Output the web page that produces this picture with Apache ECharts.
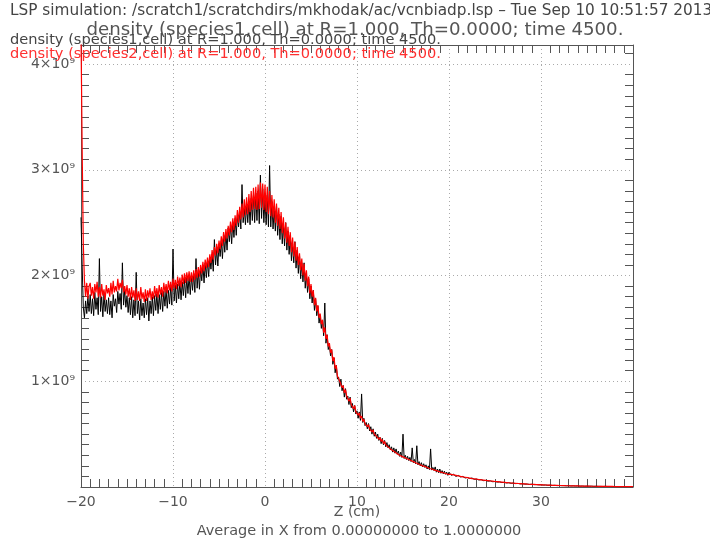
<!DOCTYPE html>
<html>
<head>
<meta charset="utf-8">
<script src="https://cdn.jsdelivr.net/npm/echarts@6/dist/echarts.min.js"></script>
<style>html,body{margin:0;padding:0;background:#fff;}#c{width:710px;height:544px;}</style>
</head>
<body>
<div id="c"></div>
<script>
// Z grids (cm): dense sampling from -20 to 20, coarser tail from 20 to 40
const nearStart = -20;
const nearStep = 0.125;
const tailStart = 20;
const tailStep = 0.25;
// densities in units of 1e9, one row per cm
const species1Near = [
  2.55, 2.10, 1.70, 1.60, 1.76, 1.64, 1.80, 1.66,
  1.82, 1.64, 1.78, 1.62, 1.84, 1.68, 1.79, 1.63,
  2.16, 1.66, 1.80, 1.61, 1.83, 1.66, 1.77, 1.64,
  1.79, 1.63, 1.76, 1.60, 1.82, 1.71, 1.78, 1.65,
  1.85, 1.73, 1.83, 1.68, 2.12, 1.72, 1.86, 1.70,
  1.81, 1.65, 1.79, 1.63, 1.80, 1.60, 1.77, 1.62,
  2.03, 1.64, 1.76, 1.58, 1.78, 1.62, 1.74, 1.60,
  1.78, 1.63, 1.79, 1.57, 1.76, 1.64, 1.80, 1.62,
  1.81, 1.67, 1.83, 1.64, 1.82, 1.68, 1.84, 1.66,
  1.85, 1.71, 1.87, 1.69, 1.86, 1.73, 1.89, 1.72,
  2.25, 1.76, 1.91, 1.74, 1.92, 1.78, 1.94, 1.77,
  1.94, 1.81, 1.97, 1.79, 1.98, 1.83, 2.00, 1.82,
  1.99, 1.86, 2.02, 1.84, 2.16, 1.88, 2.05, 1.87,
  2.06, 1.95, 2.10, 1.93, 2.12, 1.98, 2.14, 1.99,
  2.17, 2.06, 2.20, 2.04, 2.34, 2.10, 2.25, 2.09,
  2.30, 2.18, 2.33, 2.16, 2.38, 2.22, 2.40, 2.24,
  2.45, 2.32, 2.48, 2.30, 2.51, 2.36, 2.54, 2.38,
  2.57, 2.46, 2.60, 2.44, 2.86, 2.50, 2.64, 2.48,
  2.67, 2.50, 2.70, 2.48, 2.73, 2.52, 2.76, 2.50,
  2.78, 2.52, 2.80, 2.49, 2.95, 2.54, 2.82, 2.50,
  2.72, 2.48, 2.76, 2.46, 3.04, 2.46, 2.70, 2.44,
  2.62, 2.42, 2.66, 2.38, 2.58, 2.34, 2.56, 2.30,
  2.48, 2.28, 2.50, 2.24, 2.42, 2.20, 2.38, 2.14,
  2.30, 2.12, 2.32, 2.07, 2.24, 2.02, 2.19, 1.97,
  2.12, 1.94, 2.12, 1.88, 2.02, 1.84, 1.97, 1.78,
  1.90, 1.74, 1.86, 1.67, 1.78, 1.62, 1.71, 1.55,
  1.62, 1.50, 1.58, 1.43, 1.74, 1.36, 1.44, 1.30,
  1.34, 1.24, 1.30, 1.16, 1.22, 1.08, 1.15, 1.02,
  1.04, 0.95, 1.02, 0.91, 0.96, 0.85, 0.93, 0.83,
  0.86, 0.78, 0.85, 0.75, 0.79, 0.71, 0.77, 0.69,
  0.72, 0.65, 0.71, 0.63, 0.88, 0.61, 0.65, 0.58,
  0.61, 0.55, 0.60, 0.53, 0.57, 0.50, 0.55, 0.48,
  0.52, 0.46, 0.50, 0.44, 0.47, 0.41, 0.46, 0.40,
  0.44, 0.38, 0.42, 0.37, 0.40, 0.35, 0.38, 0.33,
  0.37, 0.32, 0.36, 0.31, 0.34, 0.29, 0.33, 0.28,
  0.50, 0.27, 0.30, 0.26, 0.29, 0.25, 0.28, 0.24,
  0.37, 0.23, 0.26, 0.22, 0.39, 0.21, 0.24, 0.20,
  0.23, 0.19, 0.22, 0.185, 0.21, 0.17, 0.20, 0.165,
  0.36, 0.16, 0.185, 0.155, 0.19, 0.14, 0.17, 0.135,
  0.17, 0.13, 0.155, 0.125, 0.15, 0.12, 0.14, 0.11
];
const species1Tail = [
  0.14, 0.11, 0.12, 0.10,
  0.11, 0.095, 0.10, 0.085,
  0.09, 0.08, 0.085, 0.072,
  0.075, 0.066, 0.07, 0.06,
  0.062, 0.055, 0.058, 0.05,
  0.052, 0.046, 0.048, 0.042,
  0.044, 0.038, 0.04, 0.035,
  0.037, 0.032, 0.034, 0.029,
  0.031, 0.027, 0.028, 0.024,
  0.026, 0.022, 0.023, 0.02,
  0.021, 0.018, 0.019, 0.016,
  0.017, 0.015, 0.016, 0.013,
  0.014, 0.012, 0.013, 0.011,
  0.012, 0.01, 0.011, 0.009,
  0.01, 0.008, 0.009, 0.007,
  0.008, 0.007, 0.008, 0.006,
  0.007, 0.006, 0.006, 0.005,
  0.006, 0.005, 0.005, 0.004,
  0.005, 0.004, 0.004, 0.004,
  0.004, 0.003, 0.004, 0.003,
  0.003
];
const species2Near = [
  4.30, 3.20, 2.30, 1.95, 1.80, 1.93, 1.78, 1.90,
  1.93, 1.81, 1.89, 1.78, 1.92, 1.84, 1.94, 1.80,
  1.89, 1.79, 1.92, 1.81, 1.87, 1.77, 1.91, 1.83,
  1.88, 1.80, 1.93, 1.82, 1.95, 1.84, 1.90, 1.85,
  1.97, 1.86, 1.93, 1.88, 1.96, 1.84, 1.90, 1.82,
  1.91, 1.80, 1.88, 1.77, 1.89, 1.79, 1.86, 1.76,
  1.88, 1.77, 1.85, 1.76, 1.89, 1.78, 1.84, 1.75,
  1.87, 1.76, 1.86, 1.79, 1.88, 1.77, 1.85, 1.78,
  1.90, 1.80, 1.88, 1.79, 1.91, 1.82, 1.89, 1.80,
  1.93, 1.84, 1.92, 1.83, 1.95, 1.86, 1.94, 1.85,
  1.97, 1.88, 1.96, 1.87, 1.99, 1.90, 1.98, 1.89,
  2.01, 1.92, 2.02, 1.93, 2.03, 1.95, 2.04, 1.94,
  2.03, 1.94, 2.05, 1.96, 2.06, 1.98, 2.08, 1.99,
  2.10, 2.02, 2.13, 2.04, 2.15, 2.07, 2.17, 2.08,
  2.20, 2.12, 2.24, 2.15, 2.27, 2.19, 2.30, 2.21,
  2.33, 2.25, 2.37, 2.28, 2.41, 2.32, 2.44, 2.35,
  2.47, 2.38, 2.51, 2.41, 2.54, 2.43, 2.57, 2.47,
  2.62, 2.50, 2.65, 2.53, 2.68, 2.55, 2.72, 2.57,
  2.74, 2.58, 2.77, 2.60, 2.80, 2.62, 2.83, 2.63,
  2.84, 2.62, 2.86, 2.63, 2.88, 2.64, 2.87, 2.62,
  2.86, 2.60, 2.84, 2.58, 2.80, 2.56, 2.76, 2.55,
  2.72, 2.50, 2.68, 2.47, 2.64, 2.44, 2.60, 2.40,
  2.55, 2.35, 2.50, 2.31, 2.46, 2.28, 2.41, 2.22,
  2.36, 2.18, 2.32, 2.14, 2.27, 2.10, 2.21, 2.05,
  2.16, 2.00, 2.11, 1.95, 2.05, 1.90, 1.99, 1.83,
  1.92, 1.80, 1.86, 1.72, 1.79, 1.66, 1.72, 1.60,
  1.64, 1.54, 1.58, 1.46, 1.51, 1.40, 1.44, 1.33,
  1.36, 1.27, 1.30, 1.19, 1.23, 1.12, 1.15, 1.05,
  1.06, 1.00, 1.01, 0.94, 0.96, 0.89, 0.92, 0.86,
  0.87, 0.81, 0.84, 0.78, 0.79, 0.74, 0.77, 0.71,
  0.72, 0.68, 0.70, 0.65, 0.67, 0.62, 0.64, 0.60,
  0.61, 0.57, 0.59, 0.55, 0.56, 0.52, 0.54, 0.50,
  0.51, 0.48, 0.49, 0.45, 0.47, 0.43, 0.45, 0.41,
  0.43, 0.40, 0.41, 0.38, 0.39, 0.36, 0.37, 0.345,
  0.36, 0.33, 0.345, 0.315, 0.33, 0.30, 0.315, 0.29,
  0.30, 0.28, 0.29, 0.27, 0.28, 0.26, 0.27, 0.25,
  0.26, 0.24, 0.25, 0.23, 0.24, 0.22, 0.23, 0.21,
  0.22, 0.20, 0.21, 0.195, 0.20, 0.185, 0.19, 0.175,
  0.185, 0.17, 0.178, 0.162, 0.17, 0.155, 0.162, 0.148,
  0.155, 0.14, 0.148, 0.135, 0.14, 0.128, 0.133, 0.12
];
const species2Tail = [
  0.125, 0.12, 0.115, 0.11,
  0.105, 0.10, 0.096, 0.092,
  0.088, 0.084, 0.080, 0.077,
  0.074, 0.071, 0.068, 0.065,
  0.062, 0.060, 0.057, 0.055,
  0.052, 0.050, 0.048, 0.046,
  0.044, 0.042, 0.040, 0.038,
  0.036, 0.035, 0.033, 0.032,
  0.030, 0.029, 0.027, 0.026,
  0.025, 0.024, 0.023, 0.022,
  0.021, 0.020, 0.019, 0.018,
  0.017, 0.016, 0.016, 0.015,
  0.014, 0.014, 0.013, 0.012,
  0.012, 0.011, 0.011, 0.010,
  0.010, 0.009, 0.009, 0.008,
  0.008, 0.008, 0.007, 0.007,
  0.007, 0.006, 0.006, 0.006,
  0.005, 0.005, 0.005, 0.005,
  0.004, 0.004, 0.004, 0.004,
  0.004, 0.003, 0.003, 0.003,
  0.003
];
const xTickValues = [-20, -10, 0, 10, 20, 30, 40];
const xTickLabels = ['\u221220', '\u221210', '0', '10', '20', '30', ''];
const yTickValues = [0, 1, 2, 3, 4];
const yTickLabels = ['', '1\u00d710\u2079', '2\u00d710\u2079', '3\u00d710\u2079', '4\u00d710\u2079'];

const headerText = 'LSP simulation: /scratch1/scratchdirs/mkhodak/ac/vcnbiadp.lsp \u2013 Tue Sep 10 10:51:57 2013';
const titleText = 'density (species1,cell) at R=1.000, Th=0.0000; time 4500.';
const label1 = 'density (species1,cell) at R=1.000, Th=0.0000; time 4500.';
const label2 = 'density (species2,cell) at R=1.000, Th=0.0000; time 4500.';
const xName = 'Z (cm)';
const xSub = 'Average in X from 0.00000000 to 1.0000000';

const toPairs = (near, tail) =>
  near.map((v, i) => [nearStart + i * nearStep, v])
      .concat(tail.map((v, i) => [tailStart + i * tailStep, v]));

const FF = 'DejaVu Sans';
const axisCol = '#555';
const gridLine = {show: true, lineStyle: {color: '#aaa', type: [1, 3], width: 1}};
const minor = {show: true, splitNumber: 10, length: 8, lineStyle: {color: '#555', width: 1}};

const chart = echarts.init(document.getElementById('c'), null, {renderer: 'canvas'});
chart.setOption({
  animation: false,
  backgroundColor: '#fff',
  title: [
    {text: headerText, left: 10, top: 4, padding: 0, textStyle: {fontFamily: FF, fontSize: 15.3, fontWeight: 'normal', color: '#444'}},
    {text: titleText, left: 'center', top: 21, padding: 0, textStyle: {fontFamily: FF, fontSize: 18.2, fontWeight: 'normal', color: '#555'}},
    {text: label1, left: 10, top: 33, padding: 0, textStyle: {fontFamily: FF, fontSize: 14.6, fontWeight: 'normal', color: '#444'}},
    {text: label2, left: 10, top: 47, padding: 0, textStyle: {fontFamily: FF, fontSize: 14.6, fontWeight: 'normal', color: '#ff3030'}},
    {text: xName, left: 357, textAlign: 'center', top: 505, padding: 0, textStyle: {fontFamily: FF, fontSize: 14, fontWeight: 'normal', color: '#555'}},
    {text: xSub, left: 359, textAlign: 'center', top: 524, padding: 0, textStyle: {fontFamily: FF, fontSize: 14.5, fontWeight: 'normal', color: '#555'}}
  ],
  grid: {left: 81, right: 77, top: 45, bottom: 57, containLabel: false},
  xAxis: [
    {type: 'value', min: -20, max: 40, interval: 10, position: 'bottom',
     axisLine: {show: true, onZero: false, lineStyle: {color: axisCol}},
     axisTick: {show: false, inside: true}, minorTick: minor,
     splitLine: gridLine,
     axisLabel: {fontFamily: FF, fontSize: 14, color: '#555', margin: 8,
       formatter: v => { const k = xTickValues.indexOf(v); return k >= 0 ? xTickLabels[k] : ''; }}},
    {type: 'value', min: -20, max: 40, interval: 10, position: 'top',
     axisLine: {show: true, onZero: false, lineStyle: {color: axisCol}},
     axisTick: {show: false, inside: true}, minorTick: minor,
     splitLine: {show: false}, axisLabel: {show: false}}
  ],
  yAxis: [
    {type: 'value', min: 0, max: 4.18, interval: 1, position: 'left',
     axisLine: {show: true, onZero: false, lineStyle: {color: axisCol}},
     axisTick: {show: false, inside: true}, minorTick: minor,
     splitLine: gridLine,
     axisLabel: {fontFamily: FF, fontSize: 14, color: '#555', margin: 6, showMaxLabel: false,
       formatter: v => { const k = yTickValues.indexOf(v); return k >= 0 ? yTickLabels[k] : ''; }}},
    {type: 'value', min: 0, max: 4.18, interval: 1, position: 'right',
     axisLine: {show: true, onZero: false, lineStyle: {color: axisCol}},
     axisTick: {show: false, inside: true}, minorTick: minor,
     splitLine: {show: false}, axisLabel: {show: false}}
  ],
  series: [
    {name: 'species1', type: 'line', data: toPairs(species1Near, species1Tail), showSymbol: false, symbol: 'none',
     lineStyle: {color: '#000', width: 1}, clip: true, z: 2},
    {name: 'species2', type: 'line', data: toPairs(species2Near, species2Tail), showSymbol: false, symbol: 'none',
     lineStyle: {color: '#ff0000', width: 1.2}, clip: true, z: 3}
  ]
});
</script>
</body>
</html>
